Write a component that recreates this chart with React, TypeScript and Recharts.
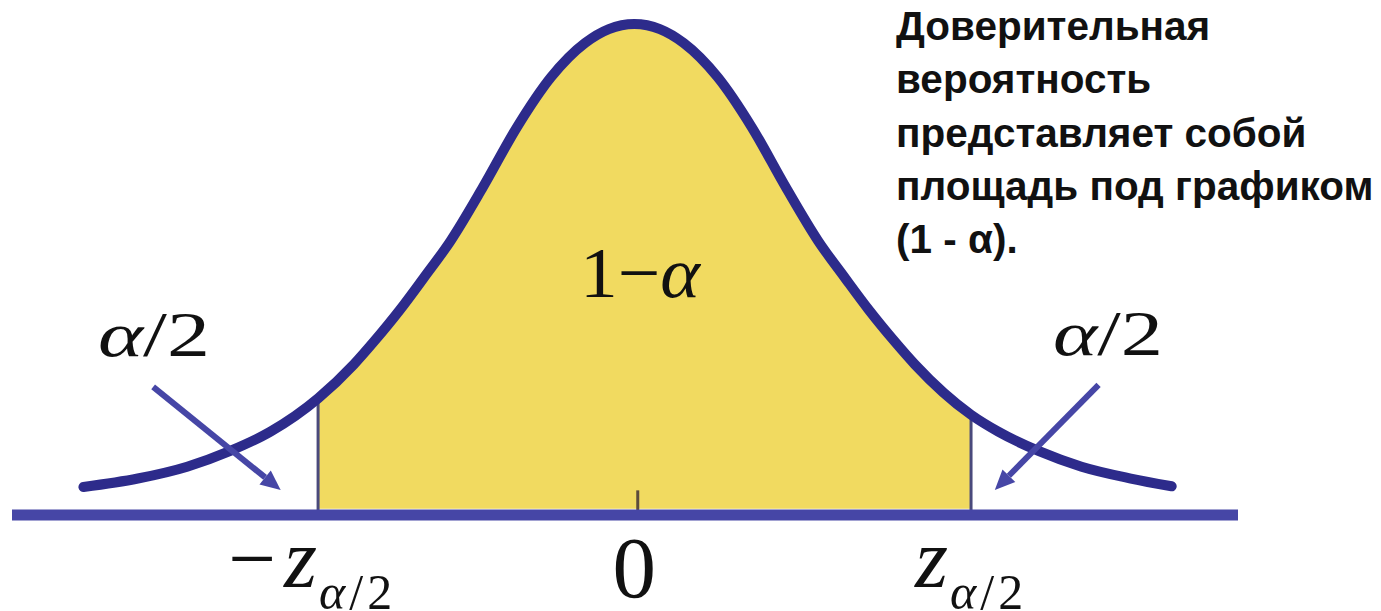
import { ComposedChart, Area, Line, XAxis, YAxis, ReferenceLine } from "recharts";

// curve: x in sigma-like units, y as density
const curveX = [
  -3.24, -2.92, -2.63, -2.38, -2.14, -1.86, -1.65, -1.53, -1.38, -1.24, -1.08, -0.89, -0.69, -0.49, -0.29, -0.15,
  0, 0.15, 0.29, 0.49, 0.69, 0.89, 1.08, 1.24, 1.38, 1.53, 1.65, 1.98, 2.14, 2.38, 2.63, 2.92, 3.16,
];
const curveY = [
  0.0227, 0.0296, 0.0392, 0.0518, 0.0676, 0.0946, 0.1221, 0.1409, 0.1662, 0.1921, 0.2226, 0.2661, 0.3148, 0.3553, 0.383, 0.3943,
  0.3984, 0.3943, 0.383, 0.3553, 0.3148, 0.2661, 0.2226, 0.1921, 0.1662, 0.1409, 0.1221, 0.0813, 0.0676, 0.0518, 0.0392, 0.0296, 0.0233,
];

const zLeft = -1.86;
const zRight = 1.98;
const zLeftTop = 0.0946;
const zRightTop = 0.0813;
const tickValues = [zLeft, 0, zRight];
const zeroTickX = 0.02;
const zeroTickTop = 0.02;

// arrows: [start, tip]
const arrowLeft = [{ x: -2.83, y: 0.104 }, { x: -2.08, y: 0.0203 }];
const arrowRight = [{ x: 2.73, y: 0.1055 }, { x: 2.12, y: 0.0203 }];

const noteLines = ["Доверительная", "вероятность", "представляет собой", "площадь под графиком", "(1 - α)."];

const data = curveX.map((x, i) => ({
  x,
  curve: curveY[i],
  shade: x >= zLeft && x <= zRight ? curveY[i] : null,
}));

const SERIF = "'Liberation Serif', 'Times New Roman', serif";
const SANS = "'Liberation Sans', Arial, sans-serif";
const NAVY = "#2d2b8b";
const BLUE = "#4646a6";

function ZTick(props: any) {
  const { x, y, payload } = props;
  const v = payload.value;
  if (v === 0) {
    return (
      <text x={x} y={y + 82} textAnchor="middle" fontFamily={SERIF} fontSize={87} fill="#111">
        0
      </text>
    );
  }
  const neg = v < 0;
  return (
    <text x={x + (neg ? -8 : -2)} y={y + 72} textAnchor="middle" fontFamily={SERIF} fill="#111">
      {neg && <tspan fontSize={85}>−</tspan>}
      <tspan fontSize={85} fontStyle="italic" dx={neg ? 8 : 0}>z</tspan>
      <tspan fontSize={50} fontStyle="italic" dy={22} dx={2}>α</tspan>
      <tspan fontSize={50} dx={4}>/</tspan>
      <tspan fontSize={50} dx={4}>2</tspan>
    </text>
  );
}

function Arrow(props: any) {
  const { x1, y1, x2, y2 } = props;
  const a = Math.atan2(y2 - y1, x2 - x1);
  const len = 20;
  const hw = 9;
  const bx = x2 - len * Math.cos(a);
  const by = y2 - len * Math.sin(a);
  const px = hw * Math.sin(a);
  const py = hw * Math.cos(a);
  return (
    <g>
      <line x1={x1} y1={y1} x2={bx} y2={by} stroke={BLUE} strokeWidth={6} />
      <polygon points={`${x2},${y2} ${bx + px},${by - py} ${bx - px},${by + py}`} fill={BLUE} />
    </g>
  );
}

export default function App() {
  return (
    <div style={{ position: "absolute", left: 0, top: 0, width: 1381, height: 611, background: "#fff" }}>
      <ComposedChart width={1381} height={611} data={data} margin={{ top: 22, right: 143, left: 12, bottom: 0 }}>
        <XAxis
          dataKey="x"
          type="number"
          domain={[-3.66, 3.55]}
          ticks={tickValues}
          tick={<ZTick />}
          tickLine={false}
          tickSize={0}
          tickMargin={0}
          height={96}
          axisLine={{ stroke: BLUE, strokeWidth: 11 }}
        />
        <YAxis hide domain={[0, 0.4]} />
        <Area
          type="monotone"
          dataKey="shade"
          baseValue={0.005}
          fill="#f1da60"
          fillOpacity={1}
          stroke="none"
          isAnimationActive={false}
        />
        <ReferenceLine segment={[{ x: zLeft, y: 0 }, { x: zLeft, y: zLeftTop }]} stroke="#4a4a7c" strokeWidth={3} />
        <ReferenceLine segment={[{ x: zRight, y: 0 }, { x: zRight, y: zRightTop }]} stroke="#4a4a7c" strokeWidth={3} />
        <ReferenceLine segment={[{ x: zeroTickX, y: 0 }, { x: zeroTickX, y: zeroTickTop }]} stroke="#5c4c3c" strokeWidth={3} />
        <Line
          type="monotone"
          dataKey="curve"
          stroke={NAVY}
          strokeWidth={10}
          strokeLinecap="round"
          dot={false}
          isAnimationActive={false}
        />
        <ReferenceLine segment={arrowLeft} shape={(p: any) => <Arrow {...p} />} />
        <ReferenceLine segment={arrowRight} shape={(p: any) => <Arrow {...p} />} />
      </ComposedChart>
      <svg width={1381} height={611} style={{ position: "absolute", left: 0, top: 0, pointerEvents: "none" }}>
        <text x={98} y={356} fontFamily={SERIF} fontSize={64} fill="#111" textLength={112} lengthAdjust="spacingAndGlyphs">
          <tspan fontStyle="italic">α</tspan>/2
        </text>
        <text x={1053} y={355} fontFamily={SERIF} fontSize={64} fill="#111" textLength={110} lengthAdjust="spacingAndGlyphs">
          <tspan fontStyle="italic">α</tspan>/2
        </text>
        <text x={580} y={297} fontFamily={SERIF} fontSize={72} fill="#111" textLength={120} lengthAdjust="spacingAndGlyphs">
          1−<tspan fontStyle="italic">α</tspan>
        </text>
        {noteLines.map((line, i) => (
          <text key={i} x={896} y={40 + i * 53.3} fontFamily={SANS} fontWeight="bold" fontSize={40.5} fill="#111">
            {line}
          </text>
        ))}
      </svg>
    </div>
  );
}
